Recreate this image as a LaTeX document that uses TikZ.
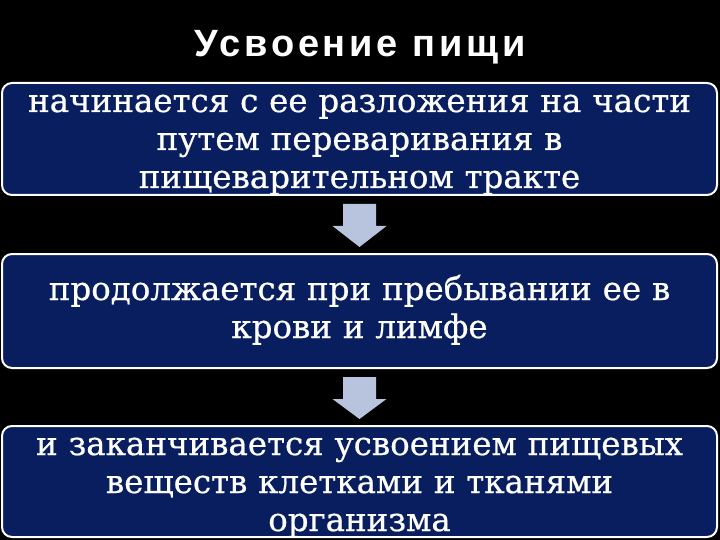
\documentclass[tikz,border=0pt]{standalone}
\usepackage{fontspec}
\setmainfont{DejaVu Serif}[FakeBold=0.6]
\newfontfamily\titlefont{Liberation Sans}[LetterSpace=10]
\usetikzlibrary{calc}
\definecolor{boxblue}{RGB}{8,30,94}
\definecolor{arrowc}{RGB}{184,196,222}
\tikzset{
  box/.style={draw=white, line width=2pt, fill=boxblue, rounded corners=10pt,
    minimum width=715pt, inner sep=0pt},
  txt/.style={text=white, align=center, text width=710pt, inner sep=0pt, anchor=base,
    font=\fontsize{32.5}{38}\selectfont},
  blockarrow/.style={fill=arrowc}
}
\begin{document}
\begin{tikzpicture}[x=1pt,y=-1pt]
\useasboundingbox (0,0) rectangle (720,540);
\fill[black] (0,0) rectangle (720,540);
\clip (0,0) rectangle (720,540);
\node[text=white, font=\titlefont\bfseries\fontsize{38}{42}\selectfont, inner sep=0pt, anchor=base] (title) at (360,57) {Усвоение пищи};
\node[box, minimum height=112pt] (b1) at (359.5,139) {};
\node[box, minimum height=114pt] (b2) at (359.5,311) {};
\node[box, minimum height=111pt] (b3) at (359.5,481.5) {};
\node[txt] (t1) at (359.5,112) {начинается с ее разложения на части\\путем переваривания в\\пищеварительном тракте};
\node[txt] (t2) at (359.5,300) {продолжается при пребывании ее в\\крови и лимфе};
\node[txt] (t3) at (359.5,455) {и заканчивается усвоением пищевых\\веществ клетками и тканями\\организма};
\fill[blockarrow] ($(b1.south)+(-16.5,8)$) -- ($(b1.south)+(16.5,8)$) -- ($(b1.south)+(16.5,30)$) -- ($(b1.south)+(27,30)$) -- ($(b2.north)+(0,-6)$) -- ($(b1.south)+(-27,30)$) -- ($(b1.south)+(-16.5,30)$) -- cycle;
\fill[blockarrow] ($(b2.south)+(-16.5,8)$) -- ($(b2.south)+(16.5,8)$) -- ($(b2.south)+(16.5,30)$) -- ($(b2.south)+(27,30)$) -- ($(b3.north)+(0,-6)$) -- ($(b2.south)+(-27,30)$) -- ($(b2.south)+(-16.5,30)$) -- cycle;
\end{tikzpicture}
\end{document}
